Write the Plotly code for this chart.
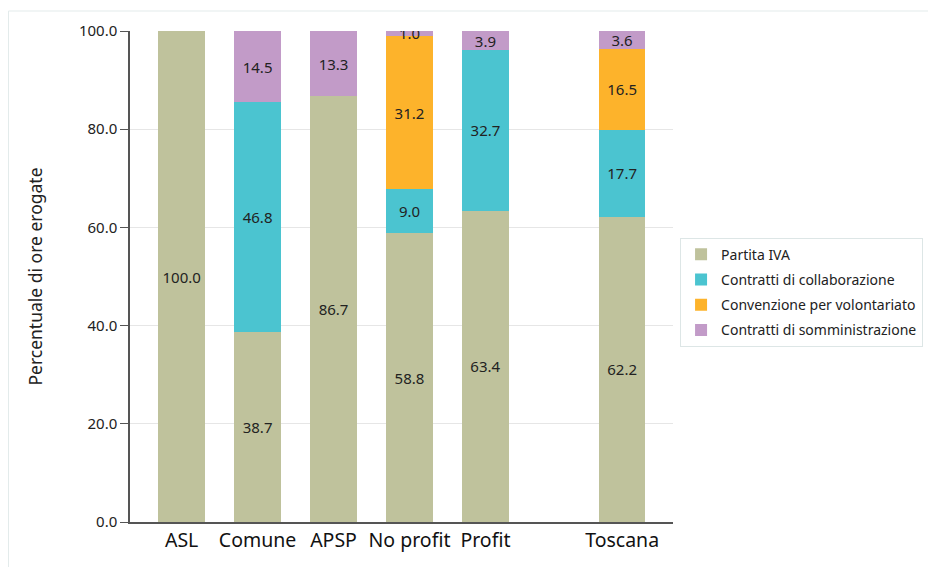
import plotly.graph_objects as go

categories = ["ASL", "Comune", "APSP", "No profit", "Profit", "Toscana"]
partita_iva = [100.0, 38.7, 86.7, 58.8, 63.4, 62.2]
collaborazione = [None, 46.8, None, 9.0, 32.7, 17.7]
volontariato = [None, None, None, 31.2, None, 16.5]
somministrazione = [None, 14.5, 13.3, 1.0, 3.9, 3.6]
y_ticks = [0, 20, 40, 60, 80, 100]

series = [
    ("Partita IVA", partita_iva, "#bfc29c"),
    ("Contratti di collaborazione", collaborazione, "#4bc4d0"),
    ("Convenzione per volontariato", volontariato, "#fdb32b"),
    ("Contratti di somministrazione", somministrazione, "#c29bc8"),
]

# Numeric positions: the last group (Toscana) is set apart from the others
n = len(categories)
xpos = [float(i) for i in range(n - 1)] + [n - 0.2]

FONT = "Noto Sans"
fig = go.Figure()
for i, (name, vals, col) in enumerate(series):
    fig.add_trace(go.Bar(
        x=xpos, y=vals, name=name, marker=dict(color=col, line=dict(width=0)),
        width=0.615,
        texttemplate="%{y:.1f}", textposition="inside", insidetextanchor="middle",
        constraintext="none",
        textfont=dict(family=FONT, size=15, color="#222"),
        legendgroup=f"g{i}",
    ))

# page body has an 8px margin, so the figure sits at (8, 8) in the window
L, R, T, B = 122, 271, 23, 53
fig.update_layout(
    barmode="stack",
    width=936, height=567,
    margin=dict(l=L, r=R, t=T, b=B),
    paper_bgcolor="white", plot_bgcolor="white",
    font=dict(family=FONT, color="#222"),
    showlegend=True,
    legend=dict(
        x=1.013, xanchor="left", y=0.468, yanchor="middle",
        bordercolor="#dde6e6", borderwidth=1,
        font=dict(family=FONT, size=14, color="#222"),
        traceorder="grouped", tracegroupgap=4,
        bgcolor="white",
    ),
    xaxis=dict(
        range=[-0.68, 6.47],
        tickvals=xpos, ticktext=categories,
        tickfont=dict(family=FONT, size=19.5, color="#111"),
        showgrid=False, zeroline=False,
        showline=True, linecolor="#555", linewidth=1.5,
        ticks="",
    ),
    yaxis=dict(
        range=[0, 100],
        tickvals=y_ticks, tickformat=".1f",
        tickfont=dict(family=FONT, size=15, color="#222"),
        showgrid=True, gridcolor="#e6e6e6", gridwidth=1,
        zeroline=False,
        showline=True, linecolor="#555", linewidth=1.5,
        ticks="outside", ticklen=8, tickcolor="#555",
        title=dict(text="Percentuale di ore erogate", standoff=32,
                   font=dict(family=FONT, size=17.5, color="#222")),
    ),
)

pw, ph = 936 - L - R, 567 - T - B
# light card frame around the chart
fig.add_shape(type="rect", xref="paper", yref="paper",
              x0=(0.5 - L) / pw, x1=(945 - L) / pw,
              y0=(567 - B - 575) / ph, y1=(567 - B - 3) / ph,
              line=dict(color="#e3ebeb", width=1), fillcolor="rgba(0,0,0,0)",
              layer="below")

fig.write_html("out.html")
